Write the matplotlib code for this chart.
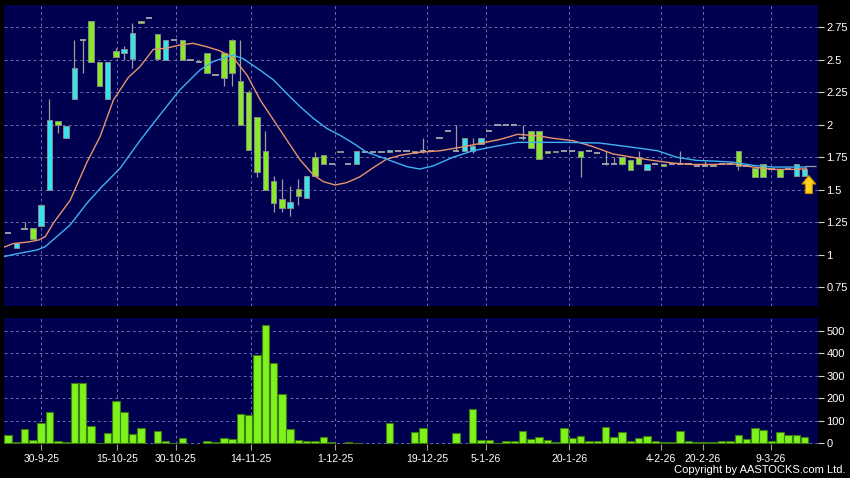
import numpy as np
import matplotlib
matplotlib.use("Agg")
import matplotlib.pyplot as plt

plt.rcParams['font.family'] = ['Liberation Sans', 'DejaVu Sans']

# daily prices, one entry per trading bar
opens = [1.17, 1.05, 1.20, 1.21, 1.22, 1.50, 2.03, 1.90, 2.20, 2.65,
         2.80, 2.48, 2.20, 2.57, 2.55, 2.51, 2.80, 2.82, 2.70, 2.50,
         2.65, 2.65, 2.50, 2.48, 2.55, 2.38, 2.55, 2.65, 2.34, 2.25,
         2.06, 1.80, 1.57, 1.43, 1.36, 1.51, 1.44, 1.75, 1.77, 1.70,
         1.80, 1.70, 1.70, 1.79, 1.79, 1.79, 1.79, 1.80, 1.80, 1.80,
         1.80, 1.80, 1.90, 1.95, 1.80, 1.80, 1.80, 1.85, 1.95, 2.00,
         2.00, 2.00, 1.90, 1.95, 1.95, 1.80, 1.80, 1.80, 1.80, 1.80,
         1.80, 1.78, 1.70, 1.70, 1.75, 1.73, 1.75, 1.65, 1.70, 1.70,
         1.70, 1.70, 1.70, 1.68, 1.68, 1.68, 1.70, 1.70, 1.80, 1.68,
         1.67, 1.70, 1.66, 1.66, 1.66, 1.61, 1.61]
highs = [1.17, 1.09, 1.25, 1.21, 1.39, 2.20, 2.03, 1.99, 2.65, 2.66,
         2.80, 2.48, 2.48, 2.59, 2.61, 2.78, 2.80, 2.82, 2.70, 2.65,
         2.65, 2.65, 2.50, 2.48, 2.55, 2.38, 2.55, 2.66, 2.65, 2.27,
         2.06, 1.95, 1.61, 1.58, 1.53, 1.58, 1.61, 1.79, 1.77, 1.70,
         1.80, 1.70, 1.80, 1.79, 1.79, 1.79, 1.81, 1.80, 1.80, 1.80,
         1.90, 1.80, 1.90, 1.95, 2.00, 1.90, 1.90, 1.90, 1.95, 2.00,
         2.00, 2.00, 2.00, 1.95, 1.95, 1.80, 1.80, 1.80, 1.80, 1.80,
         1.80, 1.78, 1.80, 1.75, 1.75, 1.73, 1.80, 1.70, 1.70, 1.70,
         1.70, 1.80, 1.70, 1.68, 1.72, 1.68, 1.70, 1.70, 1.80, 1.68,
         1.67, 1.70, 1.66, 1.66, 1.66, 1.70, 1.66]
lows = [1.17, 1.05, 1.20, 1.12, 1.22, 1.50, 1.94, 1.90, 2.20, 2.40,
        2.48, 2.30, 2.20, 2.52, 2.50, 2.44, 2.78, 2.82, 2.51, 2.50,
        2.65, 2.50, 2.50, 2.48, 2.40, 2.38, 2.30, 2.30, 2.00, 1.81,
        1.60, 1.50, 1.33, 1.33, 1.30, 1.38, 1.44, 1.61, 1.70, 1.70,
        1.79, 1.70, 1.70, 1.79, 1.79, 1.79, 1.79, 1.80, 1.80, 1.78,
        1.78, 1.80, 1.90, 1.95, 1.80, 1.80, 1.78, 1.85, 1.95, 2.00,
        2.00, 2.00, 1.88, 1.82, 1.74, 1.78, 1.79, 1.80, 1.80, 1.60,
        1.80, 1.78, 1.69, 1.70, 1.69, 1.65, 1.70, 1.65, 1.70, 1.68,
        1.70, 1.70, 1.70, 1.68, 1.68, 1.68, 1.70, 1.70, 1.65, 1.68,
        1.60, 1.60, 1.66, 1.60, 1.66, 1.61, 1.61]
closes = [1.17, 1.09, 1.20, 1.12, 1.38, 2.04, 2.00, 1.99, 2.44, 2.65,
          2.48, 2.30, 2.48, 2.52, 2.58, 2.71, 2.78, 2.82, 2.51, 2.65,
          2.65, 2.50, 2.50, 2.48, 2.40, 2.38, 2.36, 2.40, 2.00, 1.81,
          1.64, 1.50, 1.40, 1.36, 1.41, 1.45, 1.61, 1.61, 1.70, 1.70,
          1.79, 1.70, 1.80, 1.79, 1.79, 1.79, 1.81, 1.80, 1.80, 1.78,
          1.80, 1.80, 1.90, 1.95, 1.80, 1.90, 1.84, 1.90, 1.95, 2.00,
          2.00, 2.00, 1.90, 1.82, 1.74, 1.78, 1.79, 1.80, 1.80, 1.75,
          1.80, 1.78, 1.70, 1.70, 1.70, 1.65, 1.70, 1.70, 1.70, 1.68,
          1.70, 1.70, 1.70, 1.68, 1.68, 1.68, 1.70, 1.70, 1.68, 1.68,
          1.60, 1.60, 1.66, 1.60, 1.66, 1.70, 1.66]

# volume ('000 shares)
volume = [36, 6, 64, 16, 89, 141, 10, 6, 270, 270,
          76, 1.5, 45, 188, 140, 43, 67, 0, 53, 12,
          1.5, 22, 0, 0, 12, 6, 22, 21, 132, 126,
          393, 525, 359, 218, 62, 17, 9, 9, 28, 4,
          0, 4, 1.5, 0, 0, 0, 90, 0, 0, 50,
          68, 0, 0, 0, 45, 0, 151, 14, 13, 1.5,
          10, 9, 55, 21, 30, 15, 6, 70, 24, 33,
          12, 10, 71, 28, 52, 10, 24, 34, 10, 4,
          4, 53, 9, 6, 6, 6, 10, 10, 36, 18,
          67, 59, 12, 52, 37, 37, 27]

# moving averages (bar index, price)
ma_short_x = [-0.5, 0.6, 2.6, 3.7, 4.5, 5.5, 7.5, 9.5, 11.1, 12.7, 14.5, 15.9, 17.5, 19.1,
              20.7, 22.3, 24, 25.5, 27.1, 28.8, 30.4, 32, 33.6, 35.2, 36.8, 38, 39.4, 40.8,
              42.4, 44, 45.6, 47.2, 49.5, 52, 54.5, 56.9, 59.3, 61.4, 64, 65.7, 68.1, 70.5,
              72.9, 75.3, 77.7, 80.1, 82.5, 84.9, 87.3, 89.8, 92.2, 94.6, 96.2]
ma_short_y = [1.058, 1.086, 1.10, 1.114, 1.14, 1.247, 1.42, 1.71, 1.91, 2.19, 2.365, 2.447, 2.58, 2.59,
              2.614, 2.627, 2.60, 2.57, 2.52, 2.383, 2.19, 2.037, 1.883, 1.73, 1.614, 1.563, 1.537, 1.555,
              1.60, 1.67, 1.735, 1.765, 1.788, 1.80, 1.827, 1.857, 1.888, 1.927, 1.914, 1.896, 1.878, 1.832,
              1.776, 1.75, 1.726, 1.706, 1.695, 1.695, 1.70, 1.675, 1.657, 1.657, 1.662]
ma_long_x = [-0.5, 1.4, 3.5, 4.5, 7.5, 9.5, 11.1, 13.5, 15.9, 18.3, 20.7, 23.1, 24.7, 25.5,
             27.1, 28.3, 30.4, 32, 33.6, 35.2, 36.8, 38.4, 40, 41.6, 43.2, 44.8, 46.4, 48.1,
             49.6, 51.2, 53.6, 56, 58.5, 61.4, 64, 67.3, 71.3, 73.7, 76.1, 78.3, 80.6, 83,
             85.4, 87.3, 89.8, 92.2, 94.6, 96.2]
ma_long_y = [0.986, 1.012, 1.037, 1.063, 1.23, 1.396, 1.51, 1.665, 1.878, 2.076, 2.268, 2.42, 2.486, 2.504,
             2.537, 2.51, 2.42, 2.345, 2.24, 2.14, 2.05, 1.973, 1.92, 1.858, 1.79, 1.755, 1.717, 1.678,
             1.66, 1.683, 1.75, 1.80, 1.832, 1.865, 1.865, 1.865, 1.86, 1.84, 1.82, 1.80, 1.75, 1.726,
             1.72, 1.713, 1.688, 1.675, 1.675, 1.675]

date_pos = [4, 13.1, 20.2, 29.3, 39.4, 50.5, 57.6, 67.6, 78.7, 83.7, 91.9]
date_labels = ['30-9-25', '15-10-25', '30-10-25', '14-11-25', '1-12-25', '19-12-25',
               '5-1-26', '20-1-26', '4-2-26', '20-2-26', '9-3-26']
price_ticks = [0.75, 1, 1.25, 1.5, 1.75, 2, 2.25, 2.5, 2.75]
price_labels = ['0.75', '1', '1.25', '1.5', '1.75', '2', '2.25', '2.5', '2.75']
vol_ticks = [0, 100, 200, 300, 400, 500]

bg = '#000050'
grid_col = '#6c6ca8'
up_col = '#33e3f0'
down_col = '#88e82c'
flat_col = '#a8a8a8'

o = np.array(opens)
h = np.array(highs)
l = np.array(lows)
c = np.array(closes)
v = np.array(volume)
x = np.arange(len(o))

fig = plt.figure(figsize=(8.5, 4.78), dpi=100, facecolor='black')
ax = fig.add_axes([4/850, 1-306/478, 814/850, 301/478], facecolor=bg)
axv = fig.add_axes([4/850, 1-444/478, 814/850, 126/478], facecolor=bg, sharex=ax)

# candles
ax.vlines(x, l, h, color='#9c9c9c', lw=0.9, zorder=2)
flat = o == c
up = c > o
down = c < o
ax.bar(x[up], (c - o)[up], bottom=o[up], width=0.66, color=up_col,
       edgecolor='#8a8a8a', linewidth=0.7, zorder=3)
ax.bar(x[down], (o - c)[down], bottom=c[down], width=0.66, color=down_col,
       edgecolor='#8a8a8a', linewidth=0.7, zorder=3)
ax.hlines(c[flat], x[flat] - 0.38, x[flat] + 0.38, color=flat_col, lw=1.3, zorder=3)

# moving averages
ax.plot(ma_short_x, ma_short_y, color='#e8946a', lw=1.0, zorder=4)
ax.plot(ma_long_x, ma_long_y, color='#3fb2f2', lw=1.0, zorder=4)

# last price marker and arrow
ax.hlines(c[-1] + 0.02, x[-1], x[-1] + 1.3, color='#a0a0a0', lw=0.9, zorder=4)
ax.annotate('', xy=(x[-1] + 0.5, 1.63), xytext=(x[-1] + 0.5, 1.45),
            arrowprops=dict(arrowstyle='simple,head_width=1.0,head_length=0.6,tail_width=0.5',
                            fc='#ffd21e', ec='#c88a00', lw=0.8), zorder=6)

# volume
nz = v > 0
axv.bar(x[nz], v[nz], width=0.9, color='#7ef21c', edgecolor='#3d7a10', linewidth=0.8, zorder=3)

for a in (ax, axv):
    for s in a.spines.values():
        s.set_visible(False)
    a.yaxis.tick_right()
    a.tick_params(axis='y', colors='#d0d0d0', labelcolor='white', length=4, width=0.8,
                  labelsize=8, pad=2)
    a.set_xticks(date_pos)
    a.grid(True, color=grid_col, linestyle=(0, (3, 3)), linewidth=0.7, zorder=0)
    a.set_axisbelow(True)

ax.set_xlim(-0.48, 97.6)
ax.set_ylim(0.606, 2.922)
ax.set_yticks(price_ticks)
ax.set_yticklabels(price_labels)
ax.tick_params(axis='x', length=0, labelbottom=False)

axv.set_ylim(-3, 557)
axv.set_yticks(vol_ticks)
axv.set_xticklabels(date_labels)
axv.tick_params(axis='x', colors='#a0a0a0', labelcolor='white', length=4, width=0.8,
                labelsize=7.5, pad=3)

fig.text(845/850, 1-470/478, 'Copyright by AASTOCKS.com Ltd.', color='white',
         fontsize=8, ha='right', va='center')

fig.savefig('out.png', dpi=100, facecolor='black')
